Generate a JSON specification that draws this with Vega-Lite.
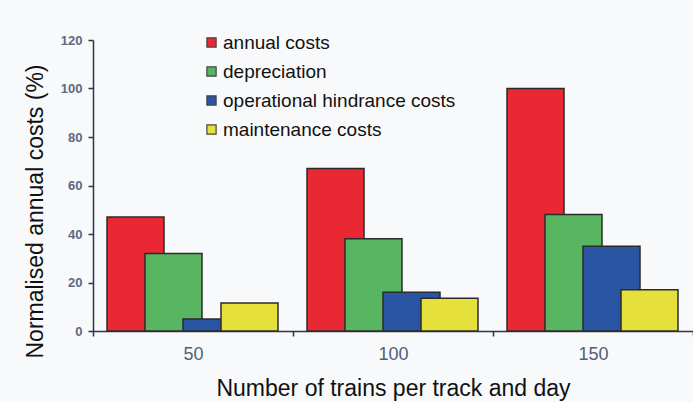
{
  "$schema": "https://vega.github.io/schema/vega-lite/v6.json",
  "width": 600,
  "height": 291,
  "autosize": "none",
  "padding": {"left": 93, "top": 40, "right": 0, "bottom": 71},
  "background": "#f8f9fb",
  "config": {
    "font": "Liberation Sans",
    "view": {"stroke": null}
  },
  "data": {
    "values": [
      {"trains": "50", "cost": "annual costs", "value": 47},
      {"trains": "50", "cost": "depreciation", "value": 32},
      {"trains": "50", "cost": "operational hindrance costs", "value": 5},
      {"trains": "50", "cost": "maintenance costs", "value": 11.5},
      {"trains": "100", "cost": "annual costs", "value": 67},
      {"trains": "100", "cost": "depreciation", "value": 38},
      {"trains": "100", "cost": "operational hindrance costs", "value": 16},
      {"trains": "100", "cost": "maintenance costs", "value": 13.5},
      {"trains": "150", "cost": "annual costs", "value": 100},
      {"trains": "150", "cost": "depreciation", "value": 48},
      {"trains": "150", "cost": "operational hindrance costs", "value": 35},
      {"trains": "150", "cost": "maintenance costs", "value": 17}
    ]
  },
  "mark": {"type": "bar", "width": {"band": 1.5}, "stroke": "#2b2b2b", "strokeWidth": 1.5},
  "encoding": {
    "x": {
      "field": "trains",
      "type": "ordinal",
      "sort": ["50", "100", "150"],
      "scale": {"paddingInner": 0, "paddingOuter": 0},
      "axis": {
        "title": "Number of trains per track and day",
        "titleFontSize": 23,
        "titleFontWeight": "normal",
        "titleColor": "#111111",
        "titlePadding": 14,
        "labelAngle": 0,
        "labelFontSize": 18,
        "labelColor": "#4f5f78",
        "labelPadding": 9,
        "tickBand": "extent",
        "tickSize": 5,
        "tickWidth": 1.5,
        "tickColor": "#333344",
        "domainColor": "#333344",
        "domainWidth": 1.5
      }
    },
    "xOffset": {
      "field": "cost",
      "type": "nominal",
      "sort": ["annual costs", "depreciation", "operational hindrance costs", "maintenance costs"],
      "scale": {"paddingInner": 0, "paddingOuter": 0, "range": [64, 216]}
    },
    "y": {
      "field": "value",
      "type": "quantitative",
      "scale": {"domain": [0, 120]},
      "axis": {
        "title": "Normalised annual costs (%)",
        "titleFontSize": 23,
        "titleFontWeight": "normal",
        "titleColor": "#111111",
        "titlePadding": 13,
        "titleY": 171,
        "values": [0, 20, 40, 60, 80, 100, 120],
        "grid": false,
        "labelFontSize": 13,
        "labelFontWeight": "bold",
        "labelColor": "#5b6a82",
        "labelPadding": 6,
        "tickSize": 5,
        "tickWidth": 1.5,
        "tickColor": "#333344",
        "domainColor": "#333344",
        "domainWidth": 1.5
      }
    },
    "color": {
      "field": "cost",
      "type": "nominal",
      "sort": ["annual costs", "depreciation", "operational hindrance costs", "maintenance costs"],
      "scale": {
        "domain": ["annual costs", "depreciation", "operational hindrance costs", "maintenance costs"],
        "range": ["#ea2834", "#58b561", "#2955a3", "#e6e13a"]
      },
      "legend": {
        "title": null,
        "orient": "none",
        "legendX": 109,
        "legendY": -7,
        "padding": 0,
        "symbolType": "square",
        "symbolSize": 85,
        "symbolStrokeColor": "#444444",
        "symbolStrokeWidth": 1.2,
        "symbolOpacity": 1,
        "labelFontSize": 19,
        "labelColor": "#111111",
        "labelOffset": 2,
        "labelLimit": 400,
        "rowPadding": 9
      }
    }
  }
}
